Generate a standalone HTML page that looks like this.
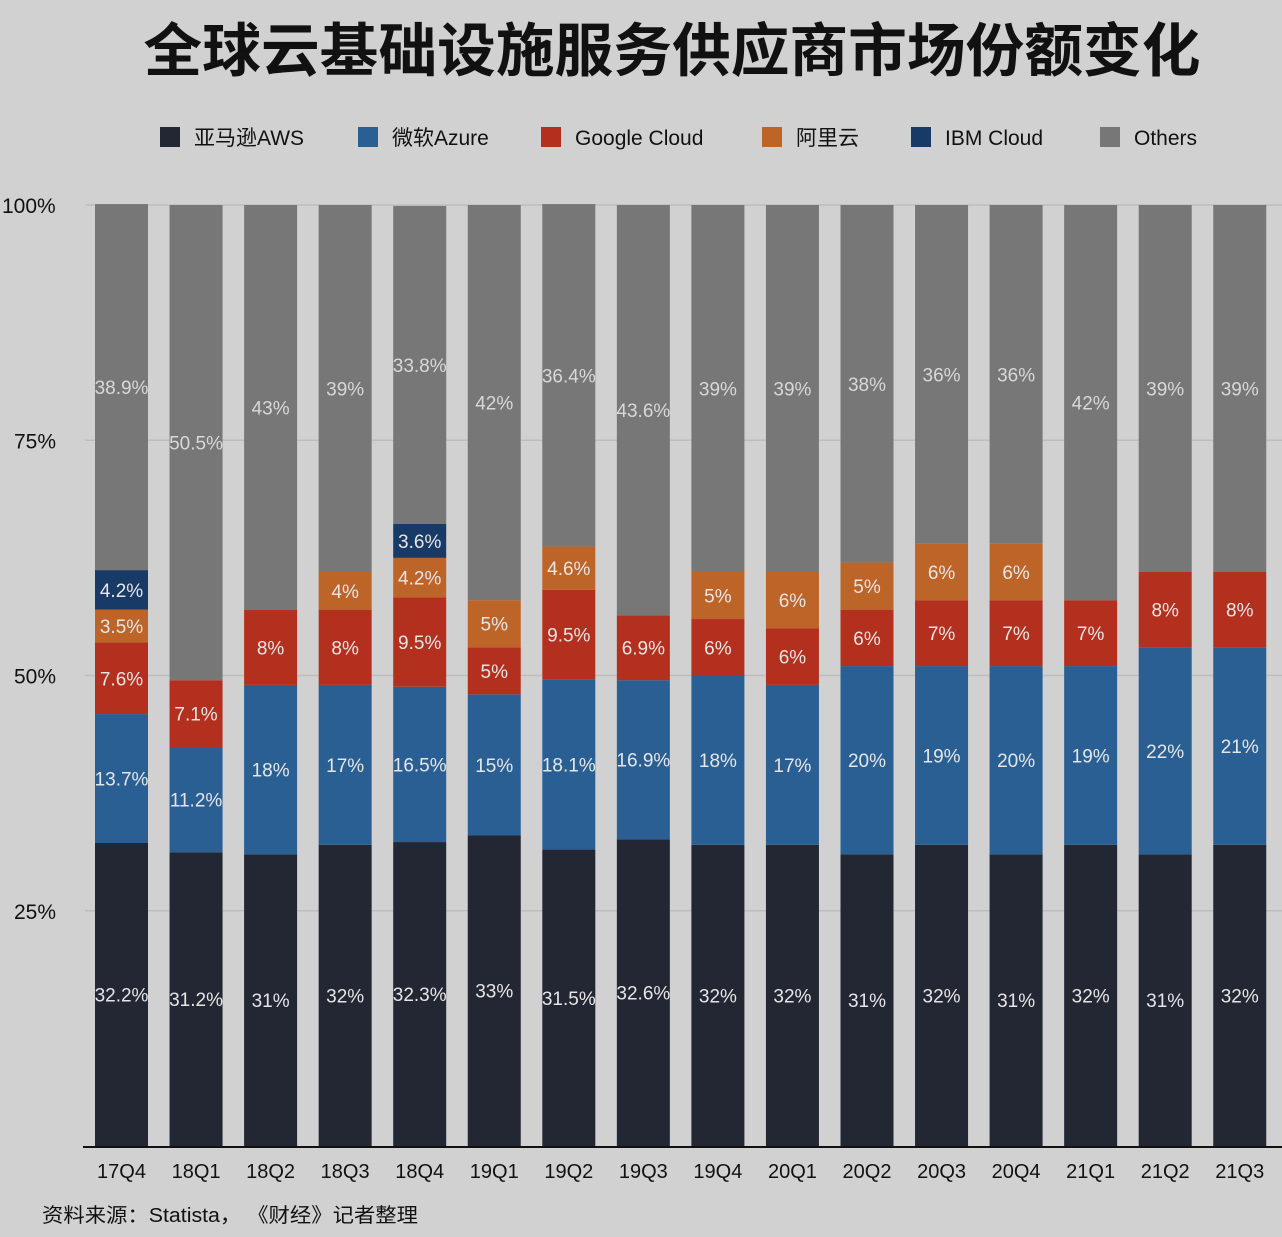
<!DOCTYPE html>
<html><head><meta charset="utf-8">
<style>
html,body{margin:0;padding:0;background:#d1d1d1;}
body{width:1282px;height:1232px;overflow:hidden;font-family:"Liberation Sans","Noto Sans CJK SC",sans-serif;}
svg text{font-family:"Liberation Sans","Noto Sans CJK SC",sans-serif;}
</style></head>
<body>
<svg id="chart" width="1282" height="1232" xmlns="http://www.w3.org/2000/svg">
<rect width="1282" height="1232" fill="#d1d1d1"/>
<text x="672" y="71" text-anchor="middle" font-size="58" font-weight="bold" fill="#111" textLength="1057" lengthAdjust="spacingAndGlyphs">全球云基础设施服务供应商市场份额变化</text>
<g id="legend"></g>
<g id="grid"></g>
<g id="bars"></g>
<g id="xaxis"></g>
<text x="42" y="1222" font-size="20" fill="#111" textLength="376" lengthAdjust="spacingAndGlyphs">资料来源：Statista， 《财经》记者整理</text>
</svg>
<script>
const categories=["17Q4","18Q1","18Q2","18Q3","18Q4","19Q1","19Q2","19Q3","19Q4","20Q1","20Q2","20Q3","20Q4","21Q1","21Q2","21Q3"];
const seriesNames=["亚马逊AWS","微软Azure","Google Cloud","阿里云","IBM Cloud","Others"];
const aws=[32.2,31.2,31,32,32.3,33,31.5,32.6,32,32,31,32,31,32,31,32];
const azure=[13.7,11.2,18,17,16.5,15,18.1,16.9,18,17,20,19,20,19,22,21];
const google=[7.6,7.1,8,8,9.5,5,9.5,6.9,6,6,6,7,7,7,8,8];
const ali=[3.5,0,0,4,4.2,5,4.6,0,5,6,5,6,6,0,0,0];
const ibm=[4.2,0,0,0,3.6,0,0,0,0,0,0,0,0,0,0,0];
const others=[38.9,50.5,43,39,33.8,42,36.4,43.6,39,39,38,36,36,42,39,39];
const yTicks=[25,50,75,100];
const labels=[
["32.2%","31.2%","31%","32%","32.3%","33%","31.5%","32.6%","32%","32%","31%","32%","31%","32%","31%","32%"],
["13.7%","11.2%","18%","17%","16.5%","15%","18.1%","16.9%","18%","17%","20%","19%","20%","19%","22%","21%"],
["7.6%","7.1%","8%","8%","9.5%","5%","9.5%","6.9%","6%","6%","6%","7%","7%","7%","8%","8%"],
["3.5%","","","4%","4.2%","5%","4.6%","","5%","6%","5%","6%","6%","","",""],
["4.2%","","","","3.6%","","","","","","","","","","",""],
["38.9%","50.5%","43%","39%","33.8%","42%","36.4%","43.6%","39%","39%","38%","36%","36%","42%","39%","39%"]];
const colors=["#232633","#2a5f93","#b3301f","#bd6429","#183a66","#777777"];
const NS="http://www.w3.org/2000/svg";
const y0=1146,ppp=9.41;
const yS=v=>y0-v*ppp;
const xS=i=>95+i*74.55;
const bw=53;
function mk(tag,attrs,parent){const e=document.createElementNS(NS,tag);for(const k in attrs)e.setAttribute(k,attrs[k]);parent.appendChild(e);return e;}
const grid=document.getElementById('grid');
yTicks.forEach(t=>{
  const l=mk('line',{x1:85,x2:1282,y1:yS(t),y2:yS(t),stroke:'#bdbdbd','stroke-width':1.5},grid);
  
  
  const tx=mk('text',{x:t==100?2:14,y:yS(t)+8,'font-size':21,fill:'#111'},grid);
  tx.textContent=t+'%';
  
  
});
const series=[aws,azure,google,ali,ibm,others];
const bars=document.getElementById('bars');
categories.forEach((c,i)=>{
  let cum=0;
  series.forEach((s,k)=>{
    const v=s[i];
    if(!v)return;
    const top=yS(cum+v),bot=yS(cum);
    const r=mk('rect',{x:xS(i),y:top,width:bw,height:bot-top,fill:colors[k]},bars);
    
    
    if(labels[k][i]){
      const t=mk('text',{x:xS(i)+bw/2,y:(top+bot)/2+7,'text-anchor':'middle','font-size':19,fill:k==5?'#d8d8d8':'#e6e6e6'},bars);
      t.textContent=labels[k][i];
      
      
    }
    cum+=v;
  });
});
const xa=document.getElementById('xaxis');
const ax=mk('line',{x1:83,x2:1282,y1:y0+1,y2:y0+1,stroke:'#111','stroke-width':2},xa);


categories.forEach((c,i)=>{
  const t=mk('text',{x:xS(i)+bw/2,y:1178,'text-anchor':'middle','font-size':20,fill:'#111'},xa);
  t.textContent=c;
  
  
});
const lg=document.getElementById('legend');
const lx=[160,358,541,762,911,1100];
seriesNames.forEach((n,k)=>{
  const r=mk('rect',{x:lx[k],y:127,width:20,height:20,fill:colors[k]},lg);
  
  
  const t=mk('text',{x:lx[k]+34,y:145,'font-size':21,fill:'#111'},lg);
  t.textContent=n;
  
  
});
</script>
</body></html>
